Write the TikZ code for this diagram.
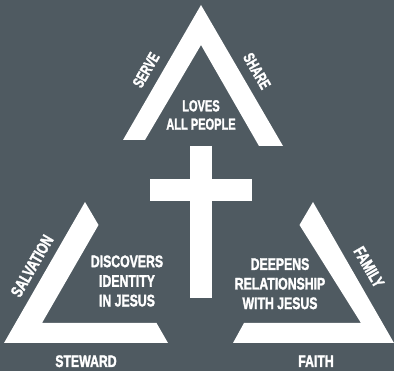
\documentclass[tikz,border=0pt]{standalone}
\usepackage{fontspec}
\newfontfamily\condA{Liberation Sans Bold}[FakeStretch=0.69, FakeBold=1.6]
\newfontfamily\condB{Liberation Sans Bold}[FakeStretch=0.73, FakeBold=1.6]
\definecolor{bgslate}{RGB}{79,90,97}
\tikzset{
  shapewhite/.style={fill=white, draw=none},
  toplabel/.style={text=white, inner sep=0pt, align=center, font=\condA\fontsize{16}{18.3}\selectfont},
  sidelabel/.style={text=white, inner sep=0pt, align=center, font=\condB\fontsize{16.8}{19.6}\selectfont},
}
\begin{document}
\begin{tikzpicture}[x=1pt, y=-1pt]
  \fill[bgslate] (0,0) rectangle (394,371);
  \useasboundingbox (0,0) rectangle (394,371);
  % top open triangle
  \fill[shapewhite] (201,5) -- (283,146) -- (259,146) -- (201,45) -- (145,140) -- (123,140) -- cycle;
  % left triangle
  \fill[shapewhite] (85,202) -- (98.5,225) -- (42,323) -- (156.5,323) -- (168,343) -- (4,343) -- cycle;
  % right triangle
  \fill[shapewhite] (313,202) -- (299.5,225) -- (361,323) -- (244,323) -- (233,343) -- (394,343) -- cycle;
  % cross
  \fill[shapewhite] (190,146) rectangle (212,298);
  \fill[shapewhite] (150,179) rectangle (252,201);
  % labels
  \node[toplabel] (loves) at (201,115) {LOVES\\ALL PEOPLE};
  \node[toplabel, rotate=60] (serve) at (146,70) {SERVE};
  \node[toplabel, rotate=-60] (share) at (257,71) {SHARE};
  \node[sidelabel] (discovers) at (127,281) {DISCOVERS\\IDENTITY\\IN JESUS};
  \node[sidelabel, rotate=60] (salvation) at (32,266) {SALVATION};
  \node[sidelabel, anchor=base] (steward) at (86,367) {STEWARD};
  \node[sidelabel] (deepens) at (280,283.7) {DEEPENS\\RELATIONSHIP\\WITH JESUS};
  \node[sidelabel, rotate=-60] (family) at (369,267) {FAMILY};
  \node[sidelabel, anchor=base] (faith) at (316,367) {FAITH};
\end{tikzpicture}
\end{document}
